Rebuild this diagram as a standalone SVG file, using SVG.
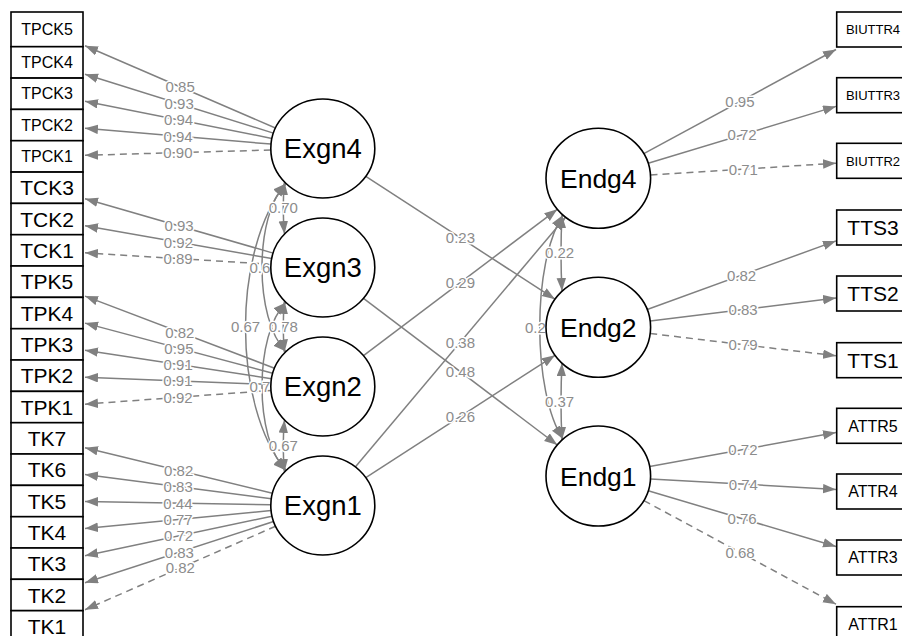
<svg xmlns="http://www.w3.org/2000/svg" width="902" height="636" viewBox="0 0 902 636">
<style>
.bg{fill:#fff}
.e{stroke:#808080;stroke-width:1.5;fill:none;marker-end:url(#ah)}
.d{stroke-dasharray:7,5}
.c{stroke:#808080;stroke-width:1.5;fill:none;marker-start:url(#ah);marker-end:url(#ah)}
.l{font-family:"Liberation Sans",Arial,sans-serif;font-size:15px;fill:#8c8c8c;stroke:#fff;stroke-width:3;paint-order:stroke;text-anchor:middle}
.ls{text-anchor:start}
.box{fill:#fff;stroke:#000;stroke-width:1.6}
.lat{fill:#fff;stroke:#000;stroke-width:1.6}
.t{font-family:"Liberation Sans",Arial,sans-serif;fill:#000;text-anchor:middle}
.s13{font-size:13px}.s16{font-size:16px}.s21{font-size:21px}.s26{font-size:26.5px}.s27{font-size:27.5px}
</style>
<defs>
<marker id="ah" markerUnits="userSpaceOnUse" markerWidth="13" markerHeight="10" refX="13" refY="4.75" orient="auto-start-reverse">
<path d="M0,0 L13,4.75 L0,9.5 Z" fill="#808080"/>
</marker>
</defs>
<rect class="bg" x="0" y="0" width="902" height="636"/>
<g id="connectors">
<line class="e" x1="275.4" y1="128" x2="85" y2="45.8"/>
<line class="e" x1="273.4" y1="133.1" x2="85" y2="74.3"/>
<line class="e" x1="271.9" y1="138.4" x2="85" y2="101.3"/>
<line class="e" x1="271" y1="144.1" x2="85" y2="128.3"/>
<line class="e d" x1="270.8" y1="150" x2="85" y2="155.3"/>
<line class="e" x1="273.1" y1="253.1" x2="85" y2="198.7"/>
<line class="e" x1="271.7" y1="258.5" x2="85" y2="225.7"/>
<line class="e d" x1="270.9" y1="264.3" x2="85" y2="252.8"/>
<line class="e" x1="274.5" y1="368.2" x2="85" y2="296.1"/>
<line class="e" x1="272.7" y1="373.2" x2="85" y2="323.1"/>
<line class="e" x1="271.4" y1="378.7" x2="85" y2="350.2"/>
<line class="e" x1="270.8" y1="384.5" x2="85" y2="377.2"/>
<line class="e d" x1="271" y1="390.4" x2="85" y2="404.2"/>
<line class="e" x1="272.4" y1="493.2" x2="85" y2="447.7"/>
<line class="e" x1="271.3" y1="498.8" x2="85" y2="474.6"/>
<line class="e" x1="270.8" y1="504.7" x2="85" y2="501.6"/>
<line class="e" x1="271.1" y1="510.5" x2="85" y2="528.6"/>
<line class="e" x1="272" y1="516.2" x2="85" y2="555.7"/>
<line class="e" x1="273.6" y1="521.5" x2="85" y2="582.7"/>
<line class="e d" x1="275.6" y1="526.2" x2="85" y2="609.7"/>
<line class="e" x1="643.8" y1="153.7" x2="836" y2="49.5"/>
<line class="e" x1="648.2" y1="163.2" x2="836" y2="106.4"/>
<line class="e d" x1="650.5" y1="175" x2="836" y2="163.2"/>
<line class="e" x1="647.2" y1="309.5" x2="836" y2="240.9"/>
<line class="e" x1="650.2" y1="320.9" x2="836" y2="298.1"/>
<line class="e d" x1="650.2" y1="333.5" x2="836" y2="355.8"/>
<line class="e" x1="649.7" y1="466.6" x2="836" y2="432.6"/>
<line class="e" x1="650.5" y1="478.9" x2="836" y2="489.4"/>
<line class="e" x1="648.2" y1="490.8" x2="836" y2="546.5"/>
<line class="e d" x1="643.9" y1="500.6" x2="836" y2="604.2"/>
<line class="e" x1="365.8" y1="176.4" x2="555" y2="299.2"/>
<line class="e" x1="363.5" y1="298.3" x2="557.3" y2="445"/>
<line class="e" x1="363.5" y1="355.7" x2="557.3" y2="209.3"/>
<line class="e" x1="355.3" y1="466.9" x2="565.5" y2="217.2"/>
<line class="e" x1="365.8" y1="477.7" x2="555" y2="355.3"/>
<path class="c" d="M284.5,182 Q282,208 284.5,234"/>
<path class="c" d="M284.5,301 Q282,326.8 284.5,352.5"/>
<path class="c" d="M284.5,420 Q282,446 284.5,472"/>
<path class="c" d="M286,183.5 C254,215 254,320 286,351.5"/>
<path class="c" d="M286,302.5 C254,334 254,439 286,470.5"/>
<path class="c" d="M286,183.5 C232,250 232,405 286,470.5"/>
<path class="c" d="M562,215 Q560,253 562,291"/>
<path class="c" d="M562,363.3 Q560,401.7 562,440"/>
<path class="c" d="M563,215 C532,262 532,392 563,439"/>
<text class="l" x="180.2" y="92.3">0.85</text>
<text class="l" x="179.2" y="109.1">0.93</text>
<text class="l" x="178.5" y="125.3">0.94</text>
<text class="l" x="178" y="141.6">0.94</text>
<text class="l" x="177.9" y="158.1">0.90</text>
<text class="l" x="179" y="231.3">0.93</text>
<text class="l" x="178.4" y="247.5">0.92</text>
<text class="l" x="178" y="264">0.89</text>
<text class="l" x="179.8" y="337.6">0.82</text>
<text class="l" x="178.9" y="353.6">0.95</text>
<text class="l" x="178.2" y="369.9">0.91</text>
<text class="l" x="177.9" y="386.3">0.91</text>
<text class="l" x="178" y="402.7">0.92</text>
<text class="l" x="178.7" y="475.9">0.82</text>
<text class="l" x="178.2" y="492.1">0.83</text>
<text class="l" x="177.9" y="508.6">0.44</text>
<text class="l" x="178.1" y="525">0.77</text>
<text class="l" x="178.5" y="541.4">0.72</text>
<text class="l" x="179.3" y="557.5">0.83</text>
<text class="l" x="180.3" y="573.4">0.82</text>
<text class="l" x="739.9" y="107">0.95</text>
<text class="l" x="742.1" y="140.2">0.72</text>
<text class="l" x="743.3" y="174.5">0.71</text>
<text class="l" x="741.6" y="280.6">0.82</text>
<text class="l" x="743.1" y="314.9">0.83</text>
<text class="l" x="743.1" y="350.1">0.79</text>
<text class="l" x="742.9" y="455">0.72</text>
<text class="l" x="743.3" y="489.6">0.74</text>
<text class="l" x="742.1" y="524.1">0.76</text>
<text class="l" x="740" y="557.8">0.68</text>
<text class="l" x="460.4" y="243.2">0.23</text>
<text class="l" x="460.4" y="377.1">0.48</text>
<text class="l" x="460.4" y="287.9">0.29</text>
<text class="l" x="460.4" y="347.5">0.38</text>
<text class="l" x="460.4" y="421.9">0.26</text>
<text class="l" x="283.3" y="213.4">0.70</text>
<text class="l" x="283.3" y="332.2">0.78</text>
<text class="l" x="283.3" y="451.4">0.67</text>
<text class="l ls" x="249.5" y="272.9">0.6</text>
<text class="l ls" x="249.5" y="391.9">0.7</text>
<text class="l" x="245.5" y="332.4">0.67</text>
<text class="l" x="559.5" y="258.4">0.22</text>
<text class="l" x="559.5" y="407.1">0.37</text>
<text class="l ls" x="525" y="332.7">0.2</text>
</g>
<g id="TPCK5"><rect class="box" x="11" y="12" width="72" height="34.7"/><text class="t s16" x="47" y="35.1">TPCK5</text></g>
<g id="TPCK4"><rect class="box" x="11" y="46.7" width="72" height="31.3"/><text class="t s16" x="47" y="68.1">TPCK4</text></g>
<g id="TPCK3"><rect class="box" x="11" y="78.1" width="72" height="31.3"/><text class="t s16" x="47" y="99.4">TPCK3</text></g>
<g id="TPCK2"><rect class="box" x="11" y="109.4" width="72" height="31.3"/><text class="t s16" x="47" y="130.8">TPCK2</text></g>
<g id="TPCK1"><rect class="box" x="11" y="140.7" width="72" height="31.3"/><text class="t s16" x="47" y="162.1">TPCK1</text></g>
<g id="TCK3"><rect class="box" x="11" y="172.1" width="72" height="31.3"/><text class="t s21" x="47" y="195.2">TCK3</text></g>
<g id="TCK2"><rect class="box" x="11" y="203.4" width="72" height="31.3"/><text class="t s21" x="47" y="226.5">TCK2</text></g>
<g id="TCK1"><rect class="box" x="11" y="234.7" width="72" height="31.3"/><text class="t s21" x="47" y="257.9">TCK1</text></g>
<g id="TPK5"><rect class="box" x="11" y="266" width="72" height="31.3"/><text class="t s21" x="47" y="289.2">TPK5</text></g>
<g id="TPK4"><rect class="box" x="11" y="297.4" width="72" height="31.3"/><text class="t s21" x="47" y="320.5">TPK4</text></g>
<g id="TPK3"><rect class="box" x="11" y="328.7" width="72" height="31.3"/><text class="t s21" x="47" y="351.9">TPK3</text></g>
<g id="TPK2"><rect class="box" x="11" y="360" width="72" height="31.3"/><text class="t s21" x="47" y="383.2">TPK2</text></g>
<g id="TPK1"><rect class="box" x="11" y="391.4" width="72" height="31.3"/><text class="t s21" x="47" y="414.5">TPK1</text></g>
<g id="TK7"><rect class="box" x="11" y="422.7" width="72" height="31.3"/><text class="t s21" x="47" y="445.9">TK7</text></g>
<g id="TK6"><rect class="box" x="11" y="454" width="72" height="31.3"/><text class="t s21" x="47" y="477.2">TK6</text></g>
<g id="TK5"><rect class="box" x="11" y="485.4" width="72" height="31.3"/><text class="t s21" x="47" y="508.5">TK5</text></g>
<g id="TK4"><rect class="box" x="11" y="516.7" width="72" height="31.3"/><text class="t s21" x="47" y="539.8">TK4</text></g>
<g id="TK3"><rect class="box" x="11" y="548" width="72" height="31.3"/><text class="t s21" x="47" y="571.2">TK3</text></g>
<g id="TK2"><rect class="box" x="11" y="579.3" width="72" height="31.3"/><text class="t s21" x="47" y="602.5">TK2</text></g>
<g id="TK1"><rect class="box" x="11" y="610.7" width="72" height="31.3"/><text class="t s21" x="47" y="633.8">TK1</text></g>
<g id="BIUTTR4"><rect class="box" x="836.7" y="12" width="73" height="35"/><text class="t s13" x="873" y="34.2">BIUTTR4</text></g>
<g id="BIUTTR3"><rect class="box" x="836.7" y="77.7" width="73" height="35"/><text class="t s13" x="873" y="99.9">BIUTTR3</text></g>
<g id="BIUTTR2"><rect class="box" x="836.7" y="143.3" width="73" height="35"/><text class="t s13" x="873" y="165.5">BIUTTR2</text></g>
<g id="TTS3"><rect class="box" x="836.7" y="210" width="73" height="35"/><text class="t s21" x="873" y="235">TTS3</text></g>
<g id="TTS2"><rect class="box" x="836.7" y="276" width="73" height="35"/><text class="t s21" x="873" y="301">TTS2</text></g>
<g id="TTS1"><rect class="box" x="836.7" y="342.7" width="73" height="35"/><text class="t s21" x="873" y="367.7">TTS1</text></g>
<g id="ATTR5"><rect class="box" x="836.7" y="408.3" width="73" height="35"/><text class="t s16" x="873" y="431.5">ATTR5</text></g>
<g id="ATTR4"><rect class="box" x="836.7" y="474" width="73" height="35"/><text class="t s16" x="873" y="497.2">ATTR4</text></g>
<g id="ATTR3"><rect class="box" x="836.7" y="540" width="73" height="35"/><text class="t s16" x="873" y="563.2">ATTR3</text></g>
<g id="ATTR1"><rect class="box" x="836.7" y="606.7" width="73" height="35"/><text class="t s16" x="873" y="629.9">ATTR1</text></g>
<g id="Exgn4"><ellipse class="lat" cx="322.8" cy="148.5" rx="52" ry="49.5"/><text class="t s27" x="322.8" y="158.3">Exgn4</text></g>
<g id="Exgn3"><ellipse class="lat" cx="322.8" cy="267.5" rx="52" ry="49.5"/><text class="t s27" x="322.8" y="277.3">Exgn3</text></g>
<g id="Exgn2"><ellipse class="lat" cx="322.8" cy="386.5" rx="52" ry="49.5"/><text class="t s27" x="322.8" y="396.3">Exgn2</text></g>
<g id="Exgn1"><ellipse class="lat" cx="322.8" cy="505.5" rx="52" ry="49.5"/><text class="t s27" x="322.8" y="515.3">Exgn1</text></g>
<g id="Endg4"><ellipse class="lat" cx="598.3" cy="178.3" rx="52.3" ry="50"/><text class="t s26" x="598.3" y="187.8">Endg4</text></g>
<g id="Endg2"><ellipse class="lat" cx="598.3" cy="327.3" rx="52.3" ry="50"/><text class="t s26" x="598.3" y="336.8">Endg2</text></g>
<g id="Endg1"><ellipse class="lat" cx="598.3" cy="476" rx="52.3" ry="50"/><text class="t s26" x="598.3" y="485.5">Endg1</text></g>
</svg>
